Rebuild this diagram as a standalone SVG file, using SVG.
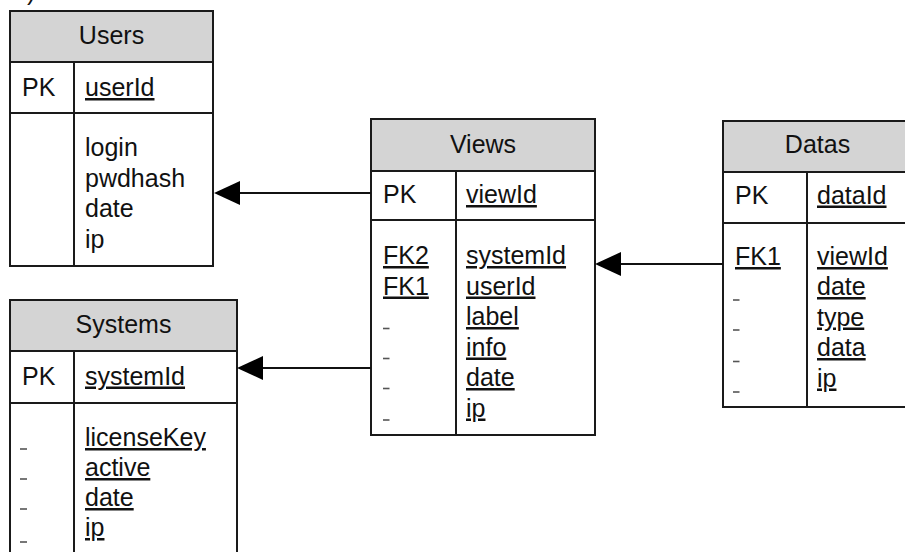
<svg xmlns="http://www.w3.org/2000/svg" width="905" height="552" viewBox="0 0 905 552">
  <style>
    text { font-family: "Liberation Sans", Arial, sans-serif; font-size: 25px; fill: #111; }
    .head { text-anchor: middle; }
    .u { text-decoration: underline; }
    .box { fill: #fff; stroke: #1a1a1a; stroke-width: 2; }
    .hdr { fill: #d4d4d4; stroke: #1a1a1a; stroke-width: 2; }
    .sep { stroke: #1a1a1a; stroke-width: 2; fill: none; }
    .dash { stroke: #555; stroke-width: 1.6; }
    .link { stroke: #111; stroke-width: 2.2; fill: none; marker-end: url(#arrow); }
  </style>
  <defs>
    <marker id="arrow" markerUnits="userSpaceOnUse" markerWidth="26" markerHeight="24" viewBox="0 0 26 24" refX="14" refY="12" orient="auto">
      <path d="M0,0 L26,12 L0,24 Z" fill="#000"/>
    </marker>
  </defs>

  <rect width="905" height="552" fill="#fff"/>

  <!-- fragment of a caption cut off by the top edge -->
  <text x="27" y="0">)</text>

  <!-- Users -->
  <g id="users">
    <rect class="box" x="10" y="11" width="203" height="255"/>
    <rect class="hdr" x="10" y="11" width="203" height="51"/>
    <line class="sep" x1="10" y1="113" x2="213" y2="113"/>
    <line class="sep" x1="74" y1="62" x2="74" y2="266"/>
    <text class="head" x="111.5" y="44">Users</text>
    <text x="22" y="96">PK</text>
    <text class="u" x="85" y="96">userId</text>
    <text x="85" y="156">login</text>
    <text x="85" y="186.5">pwdhash</text>
    <text x="85" y="217">date</text>
    <text x="85" y="247.5">ip</text>
  </g>

  <!-- Systems -->
  <g id="systems">
    <rect class="box" x="10" y="300" width="227" height="270"/>
    <rect class="hdr" x="10" y="300" width="227" height="51"/>
    <line class="sep" x1="10" y1="403" x2="237" y2="403"/>
    <line class="sep" x1="74" y1="351" x2="74" y2="570"/>
    <text class="head" x="123.5" y="333">Systems</text>
    <text x="22" y="384.5">PK</text>
    <text class="u" x="85" y="384.5">systemId</text>
    <text class="u" x="85" y="446">licenseKey</text>
    <text class="u" x="85" y="476">active</text>
    <text class="u" x="85" y="506">date</text>
    <text class="u" x="85" y="536">ip</text>
    <line class="dash" x1="20" y1="449" x2="27" y2="449"/>
    <line class="dash" x1="20" y1="479" x2="27" y2="479"/>
    <line class="dash" x1="20" y1="509" x2="27" y2="509"/>
    <line class="dash" x1="20" y1="542" x2="27" y2="542"/>
  </g>

  <!-- Views -->
  <g id="views">
    <rect class="box" x="371" y="119" width="224" height="316"/>
    <rect class="hdr" x="371" y="119" width="224" height="52"/>
    <line class="sep" x1="371" y1="220" x2="595" y2="220"/>
    <line class="sep" x1="456" y1="171" x2="456" y2="435"/>
    <text class="head" x="483" y="153">Views</text>
    <text x="383" y="203">PK</text>
    <text class="u" x="466" y="203">viewId</text>
    <text class="u" x="383" y="264">FK2</text>
    <text class="u" x="383" y="294.5">FK1</text>
    <text class="u" x="466" y="264">systemId</text>
    <text class="u" x="466" y="294.5">userId</text>
    <text class="u" x="466" y="325">label</text>
    <text class="u" x="466" y="355.5">info</text>
    <text class="u" x="466" y="386">date</text>
    <text class="u" x="466" y="416.5">ip</text>
    <line class="dash" x1="383" y1="328.5" x2="389.5" y2="328.5"/>
    <line class="dash" x1="383" y1="358.5" x2="389.5" y2="358.5"/>
    <line class="dash" x1="383" y1="388.5" x2="389.5" y2="388.5"/>
    <line class="dash" x1="383" y1="420" x2="389.5" y2="420"/>
  </g>

  <!-- Datas -->
  <g id="datas">
    <rect class="box" x="723" y="121" width="189" height="286"/>
    <rect class="hdr" x="723" y="121" width="189" height="51"/>
    <line class="sep" x1="723" y1="223" x2="912" y2="223"/>
    <line class="sep" x1="807" y1="172" x2="807" y2="407"/>
    <text class="head" x="817.5" y="153">Datas</text>
    <text x="735" y="203.5">PK</text>
    <text class="u" x="817" y="203.5">dataId</text>
    <text class="u" x="735" y="265">FK1</text>
    <text class="u" x="817" y="265">viewId</text>
    <text class="u" x="817" y="295">date</text>
    <text class="u" x="817" y="325.5">type</text>
    <text class="u" x="817" y="356">data</text>
    <text class="u" x="817" y="386.5">ip</text>
    <line class="dash" x1="733" y1="300" x2="739.5" y2="300"/>
    <line class="dash" x1="733" y1="330" x2="739.5" y2="330"/>
    <line class="dash" x1="733" y1="361.5" x2="739.5" y2="361.5"/>
    <line class="dash" x1="733" y1="392" x2="739.5" y2="392"/>
  </g>

  <!-- foreign-key links -->
  <g id="connectors">
    <line class="link" x1="371" y1="193" x2="226" y2="193"/>
    <line class="link" x1="371" y1="368" x2="249" y2="368"/>
    <line class="link" x1="723" y1="264" x2="607" y2="264"/>
  </g>
</svg>
